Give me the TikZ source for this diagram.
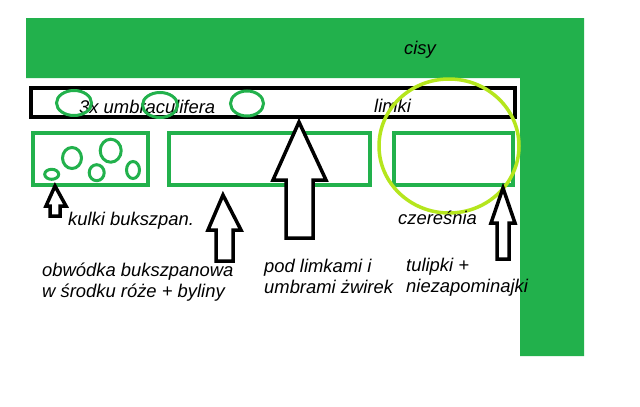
\documentclass[tikz,border=0pt]{standalone}
\usepackage{fontspec}
\setmainfont{Liberation Sans}
\definecolor{paintgreen}{HTML}{22B14C}
\definecolor{paintlime}{HTML}{B5E61D}
\begin{document}
\begin{tikzpicture}[x=1pt,y=-1pt,
  bed/.style={draw=paintgreen, line width=3.5pt},
  plant/.style={draw=paintgreen, line width=3pt},
  arrowshape/.style={draw=black, fill=white, line width=3.5pt, line join=miter},
  lbl/.style={font=\fontsize{18.4}{20.5}\selectfont\itshape, inner sep=0pt, anchor=base west, align=left}]
\useasboundingbox (0,0) rectangle (640,407);
\fill[white] (0,0) rectangle (640,407);
% hedge (cisy)
\fill[paintgreen] (26,18) -- (584,18) -- (584,356) -- (520,356) -- (520,78) -- (26,78) -- cycle;
\node[lbl] (cisy) at (404,54) {cisy};
% strip with limki
\draw[line width=4pt] (31,88) rectangle (515,117);
\node[lbl] (umb) at (79,113) {3x umbraculifera};
\node[lbl] (limki) at (374,112) {limki};
\draw[plant] (74,103) ellipse [x radius=17.5, y radius=12.5];
\draw[plant] (160,105) ellipse [x radius=17.5, y radius=12.5];
\draw[plant] (247,103.5) ellipse [x radius=16.5, y radius=12.5];
% beds
\draw[bed] (33,133) rectangle (148,185);
\draw[bed] (169,133) rectangle (370,185);
\draw[bed] (394,133) rectangle (513,185);
% box balls
\draw[plant] (72,158) ellipse [x radius=9.5, y radius=10.5];
\draw[plant] (110.7,150.7) ellipse [x radius=10.5, y radius=11.5];
\draw[plant] (96.7,172.7) ellipse [x radius=7.5, y radius=8];
\draw[plant] (51.7,174.3) ellipse [x radius=7, y radius=5];
\draw[plant] (133,170) ellipse [x radius=6.5, y radius=8.5];
% cherry tree
\draw[paintlime, line width=3.5pt] (449,146) ellipse [x radius=70, y radius=67];
% arrows
\draw[arrowshape] (55,186) -- (66,206) -- (60,206) -- (60,216) -- (50,216) -- (50,206) -- (46,206) -- cycle;
\draw[arrowshape] (223,195) -- (241,230) -- (233,230) -- (233,261) -- (216,261) -- (216,230) -- (208,230) -- cycle;
\draw[arrowshape] (299,122) -- (326,180) -- (313,180) -- (313,238) -- (286,238) -- (286,180) -- (273,180) -- cycle;
\draw[arrowshape] (503,188) -- (515,223) -- (509,223) -- (509,259) -- (497,259) -- (497,223) -- (491,223) -- cycle;
% labels
\node[lbl] (kulki) at (68,225) {kulki bukszpan.};
\node[lbl] (czeresnia) at (398,224) {czereśnia};
\node[lbl] (obwodka) at (42,297) {obwódka bukszpanowa\\w środku róże + byliny};
\node[lbl] (pod) at (264,293) {pod limkami i\\umbrami żwirek};
\node[lbl] (tulipki) at (406,292) {tulipki +\\niezapominajki};
\end{tikzpicture}
\end{document}
